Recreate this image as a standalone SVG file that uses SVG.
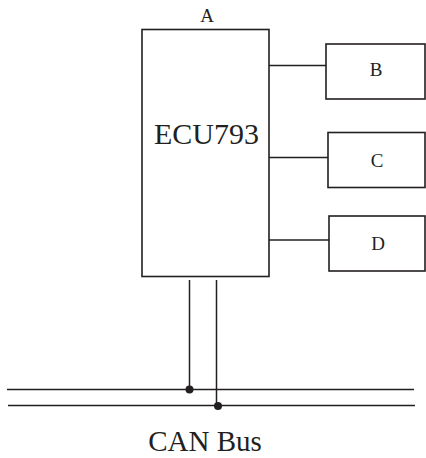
<svg xmlns="http://www.w3.org/2000/svg" width="426" height="458" viewBox="0 0 426 458">
<style>
.box{fill:#fff;stroke:#231f20;stroke-width:1.6}
.ln{stroke:#231f20;stroke-width:1.5;fill:none}
.t{font-family:"Liberation Serif","Times New Roman",serif;fill:#231f20;text-anchor:middle}
.dot{fill:#231f20}
</style>
<rect width="426" height="458" fill="#fff"/>
<g id="connectors">
<line class="ln" x1="269" y1="65.5" x2="326" y2="65.5"/>
<line class="ln" x1="269" y1="157.5" x2="328" y2="157.5"/>
<line class="ln" x1="269" y1="240" x2="329" y2="240"/>
<line class="ln" x1="189.5" y1="280" x2="189.5" y2="389.5"/>
<line class="ln" x1="216.5" y1="280" x2="216.5" y2="405.5"/>
</g>
<g id="bus">
<line class="ln" x1="7" y1="389.5" x2="414" y2="389.5"/>
<line class="ln" x1="8" y1="405.5" x2="415" y2="405.5"/>
<circle class="dot" cx="189.5" cy="389.5" r="4"/>
<circle class="dot" cx="218" cy="406" r="4"/>
<text class="t" x="205" y="451" font-size="29">CAN Bus</text>
</g>
<g id="A">
<rect class="box" x="142" y="29.5" width="127" height="247"/>
<text class="t" x="207" y="22" font-size="19">A</text>
<text class="t" x="206.5" y="143.5" font-size="30">ECU793</text>
</g>
<g id="B">
<rect class="box" x="326" y="44" width="99" height="55"/>
<text class="t" x="376" y="76" font-size="19">B</text>
</g>
<g id="C">
<rect class="box" x="328" y="132.5" width="97" height="55"/>
<text class="t" x="377" y="167" font-size="19">C</text>
</g>
<g id="D">
<rect class="box" x="329" y="216" width="96" height="55"/>
<text class="t" x="378" y="250" font-size="19">D</text>
</g>
</svg>
